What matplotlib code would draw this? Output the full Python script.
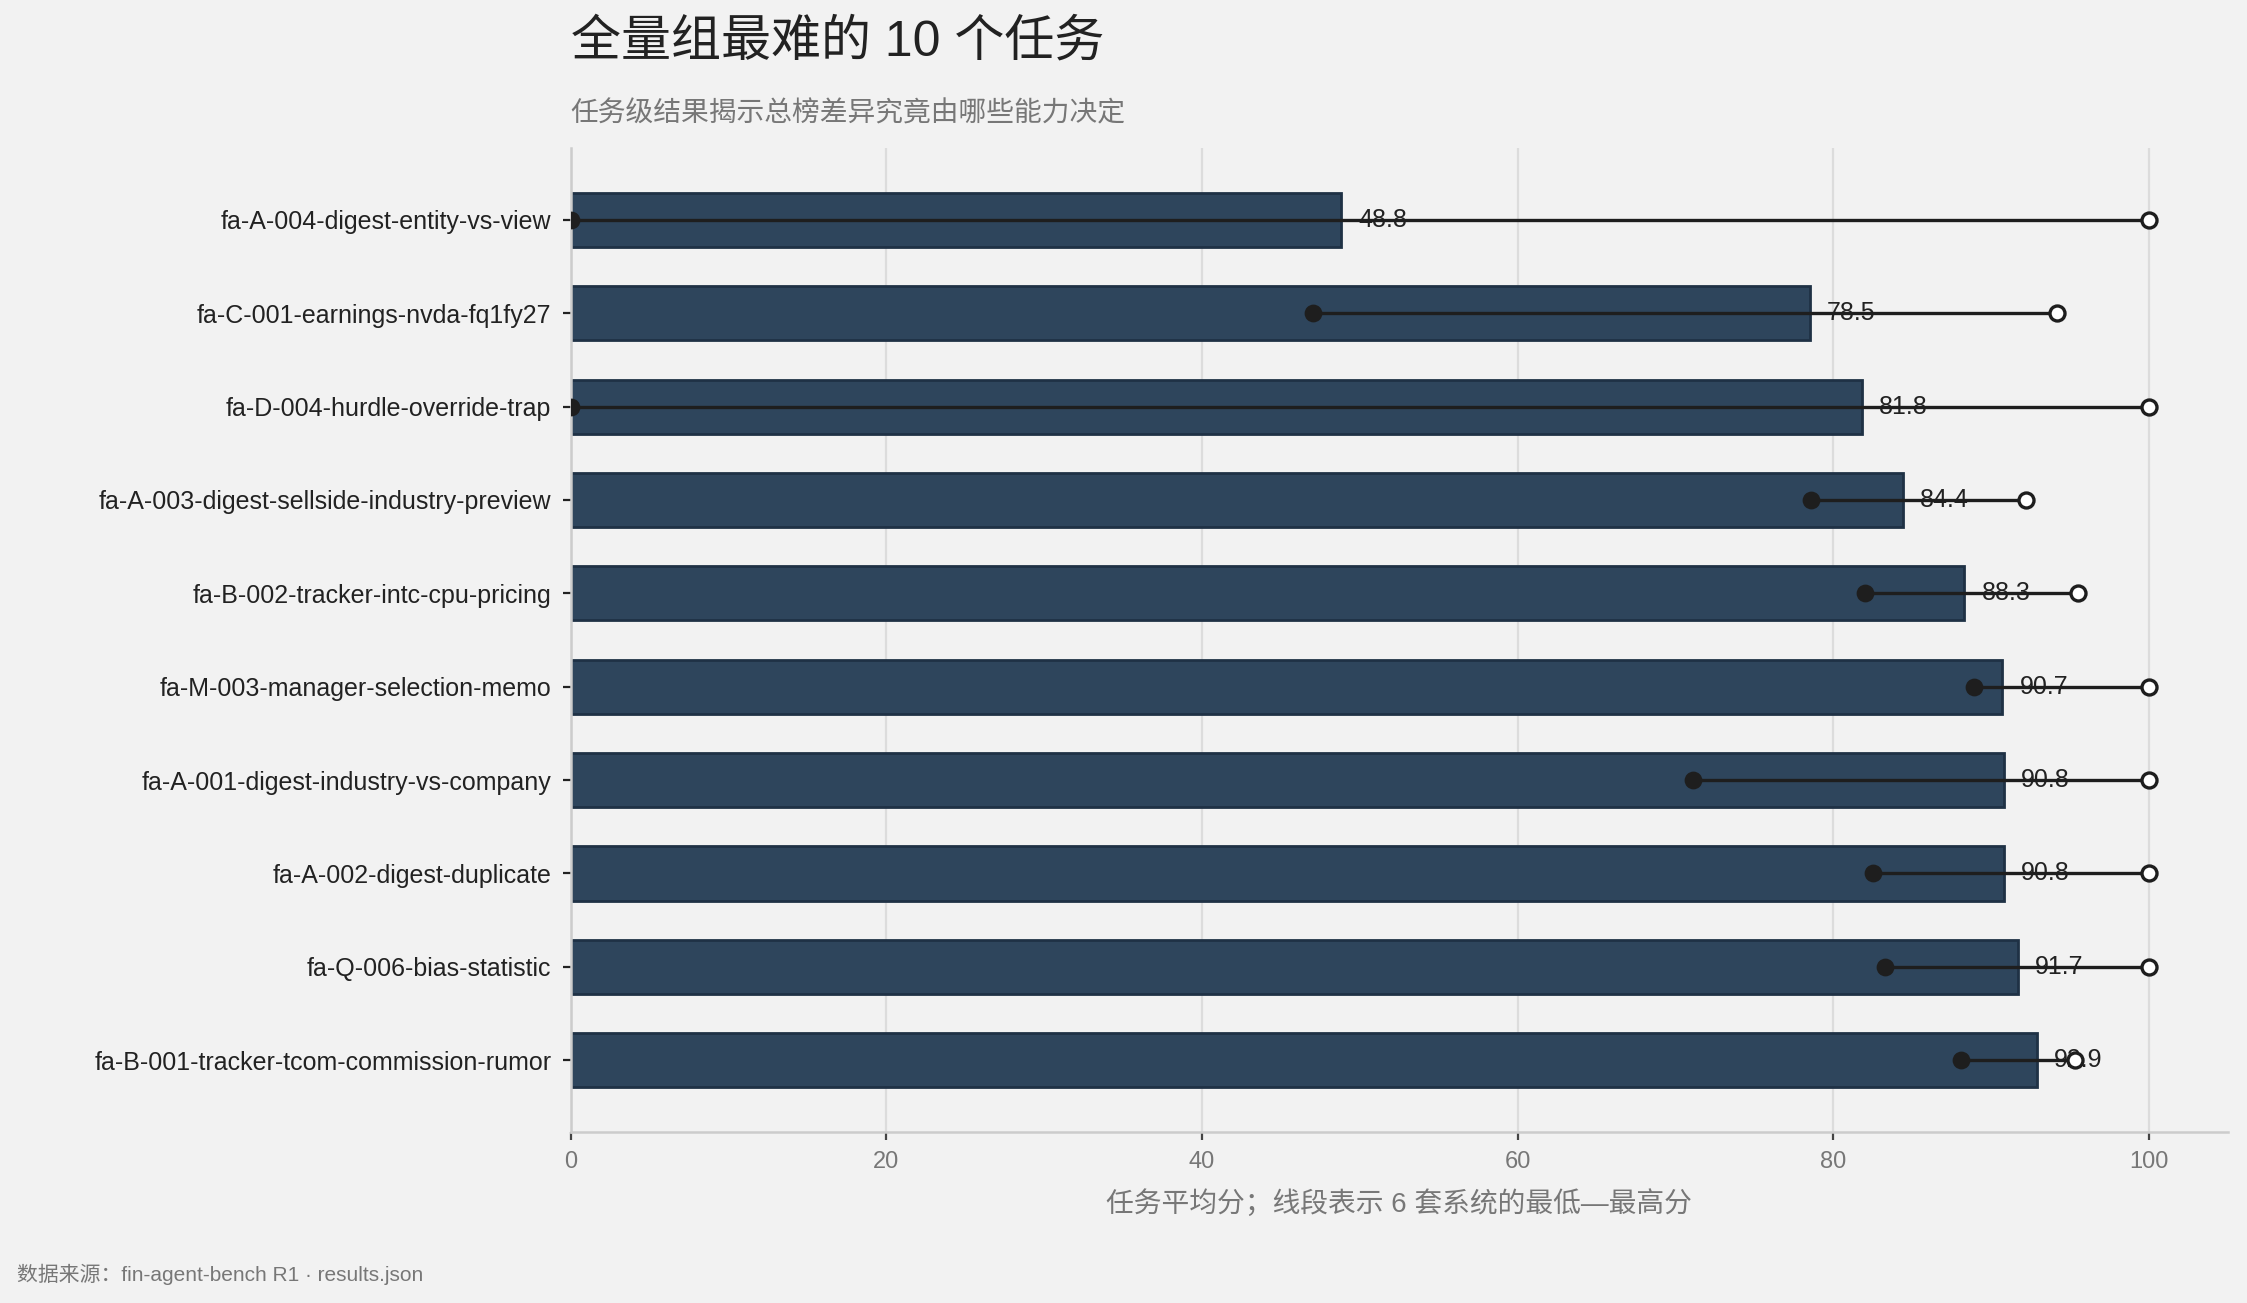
import matplotlib
matplotlib.use("Agg")
import matplotlib.pyplot as plt
import numpy as np

plt.rcParams['font.family'] = ['Liberation Sans', 'Noto Sans CJK SC', 'DejaVu Sans']

tasks = [
    "fa-A-004-digest-entity-vs-view",
    "fa-C-001-earnings-nvda-fq1fy27",
    "fa-D-004-hurdle-override-trap",
    "fa-A-003-digest-sellside-industry-preview",
    "fa-B-002-tracker-intc-cpu-pricing",
    "fa-M-003-manager-selection-memo",
    "fa-A-001-digest-industry-vs-company",
    "fa-A-002-digest-duplicate",
    "fa-Q-006-bias-statistic",
    "fa-B-001-tracker-tcom-commission-rumor",
]
mean_scores = [48.8, 78.5, 81.8, 84.4, 88.3, 90.7, 90.8, 90.8, 91.7, 92.9]
min_scores = [0.0, 47.0, 0.0, 78.6, 82.0, 88.9, 71.1, 82.5, 83.3, 88.1]
max_scores = [100.0, 94.2, 100.0, 92.2, 95.5, 100.0, 100.0, 100.0, 100.0, 95.3]
xticks = [0, 20, 40, 60, 80, 100]

bg = "#f2f2f2"
fig = plt.figure(figsize=(11.235, 6.515), dpi=200, facecolor=bg)
ax = fig.add_axes([0.254, 0.1312, 0.7375, 0.7552], facecolor=bg)

y = np.arange(len(tasks))
ax.barh(y, mean_scores, height=0.58, color="#2e455c", edgecolor="#1f3145",
        linewidth=1.0, zorder=2)
for yi, lo, hi, m in zip(y, min_scores, max_scores, mean_scores):
    ax.text(m + 1.1, yi, f"{m:.1f}", va="center", ha="left", fontsize=9,
            color="#222222", zorder=3)
    ax.plot([lo, hi], [yi, yi], color="#1e1e1e", lw=1.2, zorder=4, solid_capstyle="butt")
    ax.plot([lo], [yi], 'o', ms=5.4, color="#1e1e1e", zorder=5)
    ax.plot([hi], [yi], 'o', ms=5.4, mfc="white", mec="#1e1e1e", mew=1.2, zorder=5)

ax.set_yticks(y)
ax.set_yticklabels(tasks, fontsize=9, color="#222222")
ax.invert_yaxis()
ax.set_xlim(0, 105)
ax.set_xticks(xticks)
ax.set_xticklabels([str(t) for t in xticks], fontsize=8.5, color="#777777")
ax.tick_params(axis='y', length=3, width=0.8, color="#222222", pad=4)
ax.tick_params(axis='x', length=3, width=0.8, color="#444444", pad=4)
ax.grid(axis='x', color="#dcdcdc", lw=0.8, zorder=0)
ax.set_axisbelow(True)
for s in ["top", "right"]:
    ax.spines[s].set_visible(False)
ax.spines["left"].set_color("#cccccc")
ax.spines["bottom"].set_color("#cccccc")
ax.spines["left"].set_linewidth(0.9)
ax.spines["bottom"].set_linewidth(0.9)

ax.set_xlabel("任务平均分；线段表示 6 套系统的最低—最高分", fontsize=10, color="#777777", labelpad=6)

fig.text(0.254, 0.968, "全量组最难的 10 个任务", fontsize=18, color="#222222",
         ha="left", va="center")
fig.text(0.254, 0.912, "任务级结果揭示总榜差异究竟由哪些能力决定", fontsize=10,
         color="#777777", ha="left", va="center")
fig.text(0.0075, 0.022, "数据来源：fin-agent-bench R1 · results.json", fontsize=7.5,
         color="#777777", ha="left", va="center")

fig.savefig("out.png", dpi=200, facecolor=bg)
